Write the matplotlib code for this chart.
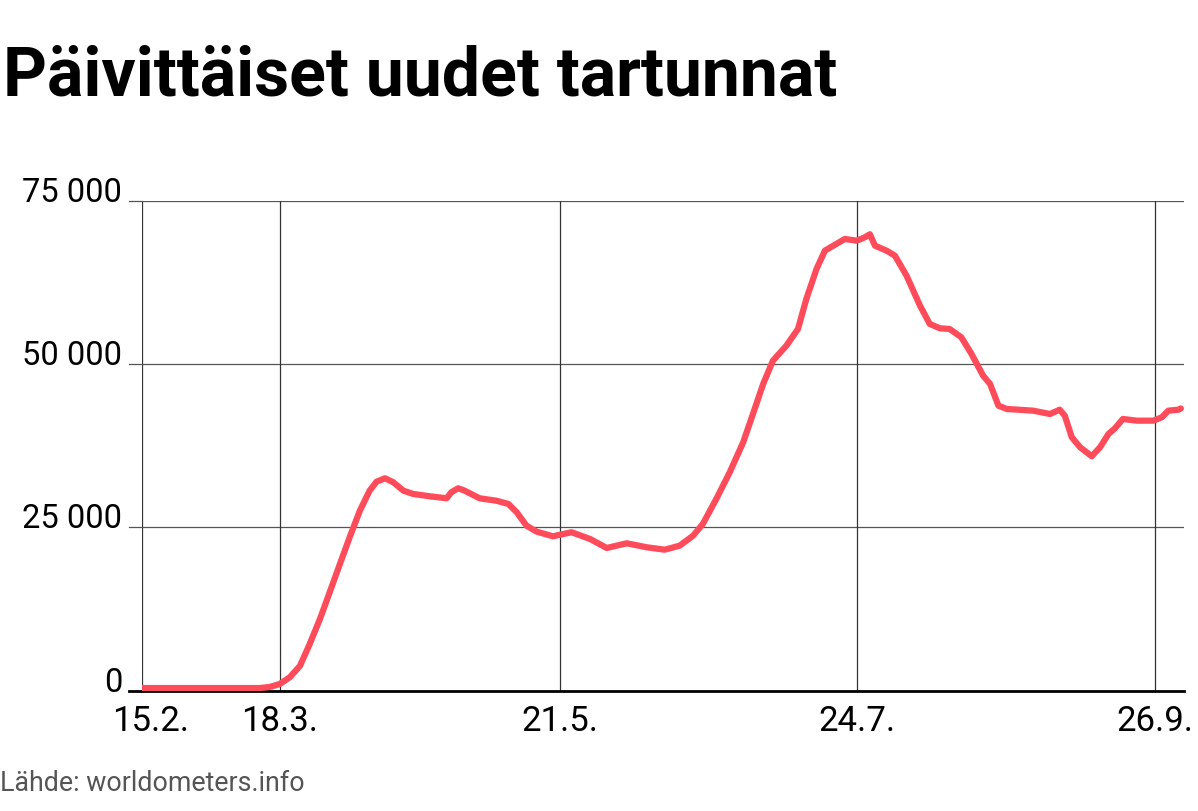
import matplotlib
matplotlib.use("Agg")
import matplotlib.pyplot as plt
import matplotlib.transforms as mtransforms

# data (x in days from 15.2., y = daily new cases)
days = [0, 12.5, 21.1, 25.4, 27.6, 29.7, 31.9, 34.1, 36.2, 38.4, 40.5, 42.7, 44.8,
        47.0, 49.1, 50.6, 52.4, 54.2, 56.4, 58.5, 62.1, 65.7, 66.7, 68.2, 69.6,
        72.8, 76.4, 79.0, 80.8, 82.9, 85.1, 88.6, 92.6, 96.6, 100.2, 104.5, 108.8,
        112.7, 115.9, 118.8, 120.9, 123.8, 126.7, 129.6, 131.7, 133.9, 136.0,
        138.9, 141.4, 143.2, 145.4, 147.2, 149.0, 151.5, 154.1, 155.8, 156.9,
        158.0, 160.5, 162.3, 164.8, 167.7, 169.8, 172.0, 174.1, 176.6, 178.8,
        181.3, 182.8, 184.6, 186.4, 192.1, 195.7, 197.8, 198.9, 200.4, 202.2,
        204.7, 206.5, 208.3, 209.7, 211.4, 214.4, 218.0, 219.8, 221.2, 223.4, 223.9]
cases = [400, 400, 400, 400, 570, 1000, 2050, 3800, 7150, 10970, 15060, 19390, 23480,
         27550, 30610, 31990, 32510, 31900, 30610, 30110, 29750, 29450, 30370, 30980,
         30610, 29450, 29080, 28580, 27310, 25260, 24340, 23630, 24250, 23220, 21840,
         22560, 21950, 21580, 22190, 23720, 25520, 29340, 33430, 38020, 42350, 46940,
         50510, 52810, 55360, 59950, 64550, 67350, 68110, 69140, 68880, 69400, 69860,
         68110, 67350, 66580, 63520, 58930, 56130, 55470, 55360, 54090, 51540, 48210,
         46940, 43620, 43120, 42860, 42350, 43010, 42090, 38790, 37260, 35880, 37260,
         39290, 40160, 41590, 41330, 41330, 41850, 42860, 43010, 43200]

tick_pos = [0, 29.8, 90.1, 154.1, 218.3]
tick_labels = ["15.2.", "18.3.", "21.5.", "24.7.", "26.9."]
y_ticks = [0, 25000, 50000, 75000]
y_labels = ["0", "25 000", "50 000", "75 000"]

fig = plt.figure(figsize=(11.98, 8.12), dpi=100)
ax = fig.add_axes([0.1183, 0.1482, 0.8697, 0.6034])

ax.plot(days, cases, color="#ff4b5a", lw=4.5, solid_capstyle="round",
        solid_joinstyle="round", zorder=5)

ax.set_xlim(0, 224.5)
ax.set_ylim(0, 75000)

for s in ax.spines.values():
    s.set_visible(False)

# grid lines
for y in y_ticks[1:]:
    ax.axhline(y, color="#555555", lw=0.9, zorder=1)
for x in tick_pos:
    ax.axvline(x, color="#333333", lw=0.9, zorder=1)
ax.axhline(0, color="black", lw=2.0, zorder=4, clip_on=False)

ax.set_xticks([])
ax.set_yticks([])

# short stubs left of the axis, labels sitting on the lines
trans = mtransforms.blended_transform_factory(fig.transFigure, ax.transData)
for y, lab in zip(y_ticks, y_labels):
    ax.plot([129 / 1198, 141.7 / 1198], [y, y], transform=trans,
            color="black" if y == 0 else "#555555", lw=2.0 if y == 0 else 0.9,
            clip_on=False)
    fig.text(122 / 1198, y, lab, transform=trans, ha="right", va="baseline",
             fontsize=23.5, family="Roboto", color="black")

xtrans = mtransforms.blended_transform_factory(ax.transData, fig.transFigure)
for x, lab in zip(tick_pos, tick_labels):
    if x == 0:
        x = 2.0  # first label nudged right like in the original
    fig.text(x, 1 - 731.5 / 812, lab, transform=xtrans, ha="center", va="baseline",
             fontsize=25, family="Roboto", color="black")

fig.text(3 / 1198, 1 - 95 / 812, "Päivittäiset uudet tartunnat", ha="left",
         va="baseline", fontsize=49, fontweight="bold", family="Roboto")
fig.text(0, 1 - 791 / 812, "Lähde: worldometers.info", ha="left", va="baseline",
         fontsize=19.3, family="Roboto", color="#555555")

fig.savefig("out.png", dpi=100, facecolor="white")
